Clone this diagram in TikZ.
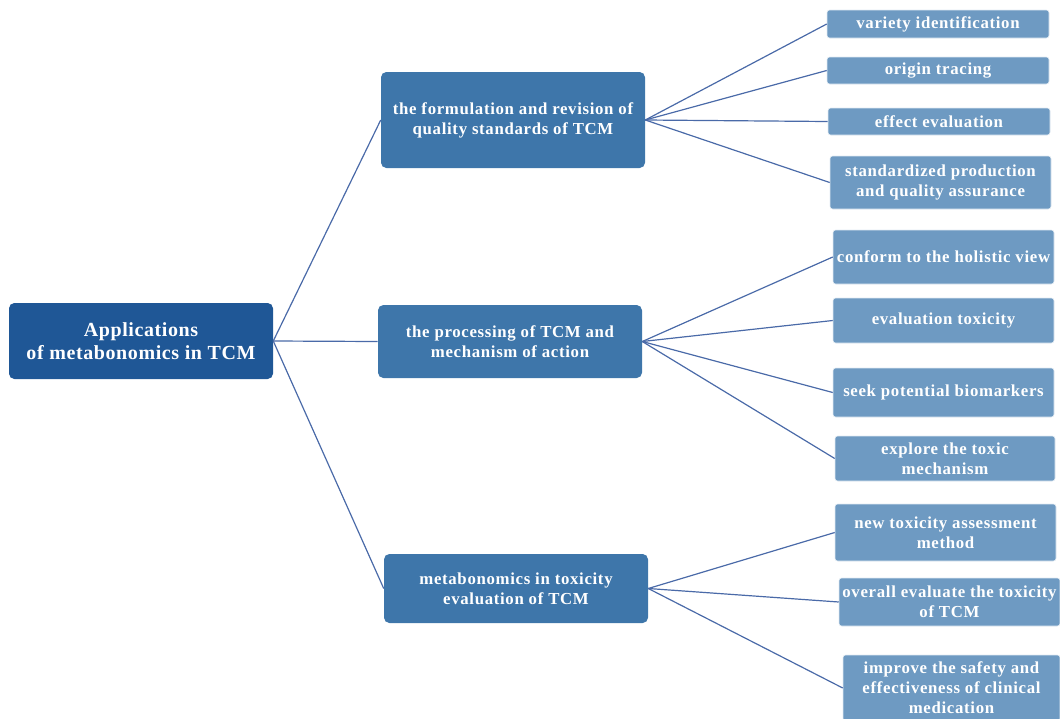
\documentclass[tikz,border=0pt]{standalone}
\usepackage{fontspec}
\setmainfont{Liberation Serif}
\usepackage{xcolor}
\usetikzlibrary{positioning,
	calc}
\definecolor{rootblue}{HTML}{1F5796}
\definecolor{midblue}{HTML}{3E76AA}
\definecolor{leafblue}{HTML}{6E9AC2}
\definecolor{linkblue}{HTML}{4A6AA8}
\tikzstyle{root}=[fill=rootblue, rounded corners=4pt, text=white, align=center,
		font=\fontsize{15}{17.5}\selectfont\bfseries, inner sep=0]
\tikzstyle{mid}=[fill=midblue, rounded corners=4pt, text=white, align=center,
		font=\fontsize{12.6}{15}\selectfont\bfseries, inner sep=0]
\tikzstyle{leaf}=[fill=leafblue, draw=white!80!leafblue, rounded corners=2pt, text=white, align=center,
		font=\fontsize{12.6}{15}\selectfont\bfseries\addfontfeature{LetterSpace=4}, inner sep=0]
\tikzstyle{link}=[draw=linkblue, line width=0.9pt]

\begin{document}
\begin{tikzpicture}[x=0.75pt, y=-0.75pt]
	\useasboundingbox (0,0) rectangle (1060,718);
	% main topic
	\node[root, minimum width=264*0.75pt, minimum height=76*0.75pt] (app) at (141,341)
		{\addfontfeature{LetterSpace=3}Applications\\\addfontfeature{LetterSpace=3}of metabonomics in TCM};
	% second level
	\node[mid, minimum width=264*0.75pt, minimum height=96*0.75pt] (qual) at (513,120)
		{\addfontfeature{LetterSpace=4}the formulation and revision of\\\addfontfeature{LetterSpace=4}quality standards of TCM};
	\node[mid, minimum width=264*0.75pt, minimum height=73*0.75pt] (proc) at (510,341.5)
		{\addfontfeature{LetterSpace=4}the processing of TCM and\\\addfontfeature{LetterSpace=4}mechanism of action};
	\node[mid, minimum width=264*0.75pt, minimum height=69*0.75pt] (tox) at (516,588.5)
		{\addfontfeature{LetterSpace=4}metabonomics in toxicity\\\addfontfeature{LetterSpace=4}evaluation of TCM};
	% third level
	\node[leaf, minimum width=222*0.75pt, minimum height=28*0.75pt] (var) at (938,24) {variety identification};
	\node[leaf, minimum width=222*0.75pt, minimum height=27*0.75pt] (orig) at (938,70.5) {origin tracing};
	\node[leaf, minimum width=222*0.75pt, minimum height=27*0.75pt] (eff) at (939,121.5) {effect evaluation};
	\node[leaf, minimum width=221*0.75pt, minimum height=53*0.75pt] (std) at (940.5,182.5)
		{standardized production\\\addfontfeature{LetterSpace=4}and quality assurance};
	\node[leaf, minimum width=221*0.75pt, minimum height=54*0.75pt] (hol) at (943.5,257) {conform to the holistic view};
	\node[leaf, minimum width=221*0.75pt, minimum height=45*0.75pt] (evt) at (943.5,320.5) {evaluation toxicity};
	\node[leaf, minimum width=221*0.75pt, minimum height=49*0.75pt] (bio) at (943.5,392.5) {seek potential biomarkers};
	\node[leaf, minimum width=220*0.75pt, minimum height=45*0.75pt] (mech) at (945,458.5)
		{explore the toxic\\\addfontfeature{LetterSpace=4}mechanism};
	\node[leaf, minimum width=221*0.75pt, minimum height=57*0.75pt] (new) at (945.5,532.5)
		{new toxicity assessment\\\addfontfeature{LetterSpace=4}method};
	\node[leaf, minimum width=221*0.75pt, minimum height=48*0.75pt] (ove) at (949.5,602)
		{overall evaluate the toxicity\\\addfontfeature{LetterSpace=4}of TCM};
	\node[leaf, minimum width=217*0.75pt, minimum height=66*0.75pt] (safe) at (951.5,688)
		{improve the safety and\\\addfontfeature{LetterSpace=4}effectiveness of clinical\\\addfontfeature{LetterSpace=4}medication};
	% links
	\foreach \m in {qual,proc,tox}
		\draw[link] (app.east) -- (\m.west);
	\foreach \l in {var,orig,eff,std}
		\draw[link] (qual.east) -- (\l.west);
	\foreach \l in {hol,evt,bio,mech}
		\draw[link] (proc.east) -- (\l.west);
	\foreach \l in {new,ove,safe}
		\draw[link] (tox.east) -- (\l.west);
\end{tikzpicture}
\end{document}
